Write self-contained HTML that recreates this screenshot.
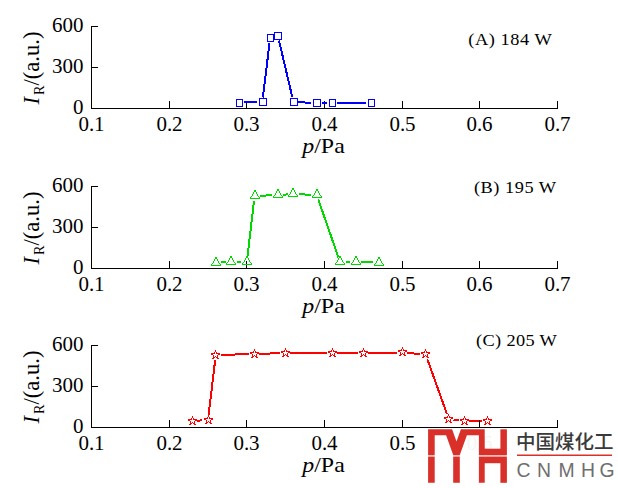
<!DOCTYPE html>
<html><head><meta charset="utf-8"><title>chart</title>
<style>html,body{margin:0;padding:0;background:#fff;width:618px;height:488px;overflow:hidden;font-family:"Liberation Serif",serif}</style></head>
<body>
<svg width="618" height="488" viewBox="0 0 618 488" style="position:absolute;left:0;top:0">
<rect x="0" y="0" width="618" height="488" fill="#fff"/>
<g font-family="Liberation Serif, serif" fill="#000">
<text transform="translate(91.5,131) scale(1.05,1.0)" font-size="20" text-anchor="middle" >0.1</text>
<text transform="translate(169.5,131) scale(1.05,1.0)" font-size="20" text-anchor="middle" >0.2</text>
<text transform="translate(246.5,131) scale(1.05,1.0)" font-size="20" text-anchor="middle" >0.3</text>
<text transform="translate(324.5,131) scale(1.05,1.0)" font-size="20" text-anchor="middle" >0.4</text>
<text transform="translate(402.5,131) scale(1.05,1.0)" font-size="20" text-anchor="middle" >0.5</text>
<text transform="translate(479.5,131) scale(1.05,1.0)" font-size="20" text-anchor="middle" >0.6</text>
<text transform="translate(557.5,131) scale(1.05,1.0)" font-size="20" text-anchor="middle" >0.7</text>
<text transform="translate(83.5,31.7) scale(1.05,1.0)" font-size="20" text-anchor="end" >600</text>
<text transform="translate(83.5,72.7) scale(1.05,1.0)" font-size="20" text-anchor="end" >300</text>
<text transform="translate(83.5,113.7) scale(1.05,1.0)" font-size="20" text-anchor="end" >0</text>
<text transform="translate(302.3,152.8) scale(1.165,1.0)" font-size="20.5" text-anchor="start" ><tspan font-style="italic">p</tspan>/Pa</text>
<text transform="translate(39.2,104.5) rotate(-90) scale(1.017,1.0)" font-size="22.2" text-anchor="start" ><tspan font-style="italic">I</tspan><tspan font-size="14" dy="5" dx="2">R</tspan><tspan dy="-5">/(a.u.)</tspan></text>
<text transform="translate(468.2,45.2) scale(1.06,1.0)" font-size="17.3" text-anchor="start" letter-spacing="0.55">(A) 184 W</text>
</g>
<g fill="#000" shape-rendering="crispEdges">
<rect x="91" y="26" width="1" height="83"/>
<rect x="91" y="108" width="467" height="1"/>
<rect x="92" y="26" width="6" height="1"/>
<rect x="92" y="67" width="6" height="1"/>
<rect x="169" y="101" width="1" height="7"/>
<rect x="246" y="101" width="1" height="7"/>
<rect x="324" y="101" width="1" height="7"/>
<rect x="402" y="101" width="1" height="7"/>
<rect x="479" y="101" width="1" height="7"/>
<rect x="557" y="101" width="1" height="7"/>
</g>
<g stroke="#0000ff" stroke-width="2" fill="none" shape-rendering="crispEdges">
<line x1="244.07" y1="102.00" x2="256.87" y2="102.00"/>
<line x1="262.91" y1="97.50" x2="269.51" y2="43.10"/>
<line x1="278.96" y1="40.50" x2="292.23" y2="96.90"/>
<line x1="298.43" y1="102.21" x2="311.23" y2="102.76"/>
<line x1="321.73" y1="103.00" x2="326.77" y2="103.00"/>
<line x1="337.27" y1="103.00" x2="365.60" y2="103.00"/>
</g>
<g fill="#0000ff" shape-rendering="crispEdges">
<path d="M236,99H243V107H236Z M237,100V106H242V100Z" fill-rule="evenodd"/>
<path d="M259,98H267V106H259Z M260,99V105H266V99Z" fill-rule="evenodd"/>
<path d="M267,34H274V42H267Z M268,35V41H273V35Z" fill-rule="evenodd"/>
<path d="M274,32H282V40H274Z M275,33V39H281V33Z" fill-rule="evenodd"/>
<path d="M290,98H298V106H290Z M291,99V105H297V99Z" fill-rule="evenodd"/>
<path d="M313,99H321V107H313Z M314,100V106H320V100Z" fill-rule="evenodd"/>
<path d="M329,99H336V107H329Z M330,100V106H335V100Z" fill-rule="evenodd"/>
<path d="M368,99H375V107H368Z M369,100V106H374V100Z" fill-rule="evenodd"/>
</g>
<g font-family="Liberation Serif, serif" fill="#000">
<text transform="translate(91.5,291) scale(1.05,1.0)" font-size="20" text-anchor="middle" >0.1</text>
<text transform="translate(169.5,291) scale(1.05,1.0)" font-size="20" text-anchor="middle" >0.2</text>
<text transform="translate(246.5,291) scale(1.05,1.0)" font-size="20" text-anchor="middle" >0.3</text>
<text transform="translate(324.5,291) scale(1.05,1.0)" font-size="20" text-anchor="middle" >0.4</text>
<text transform="translate(402.5,291) scale(1.05,1.0)" font-size="20" text-anchor="middle" >0.5</text>
<text transform="translate(479.5,291) scale(1.05,1.0)" font-size="20" text-anchor="middle" >0.6</text>
<text transform="translate(557.5,291) scale(1.05,1.0)" font-size="20" text-anchor="middle" >0.7</text>
<text transform="translate(83.5,191.7) scale(1.05,1.0)" font-size="20" text-anchor="end" >600</text>
<text transform="translate(83.5,232.7) scale(1.05,1.0)" font-size="20" text-anchor="end" >300</text>
<text transform="translate(83.5,273.7) scale(1.05,1.0)" font-size="20" text-anchor="end" >0</text>
<text transform="translate(302.3,312.8) scale(1.165,1.0)" font-size="20.5" text-anchor="start" ><tspan font-style="italic">p</tspan>/Pa</text>
<text transform="translate(39.2,264.5) rotate(-90) scale(1.017,1.0)" font-size="22.2" text-anchor="start" ><tspan font-style="italic">I</tspan><tspan font-size="14" dy="5" dx="2">R</tspan><tspan dy="-5">/(a.u.)</tspan></text>
<text transform="translate(474,193) scale(1.06,1.0)" font-size="17.3" text-anchor="start" letter-spacing="0.48">(B) 195 W</text>
</g>
<g fill="#000" shape-rendering="crispEdges">
<rect x="91" y="186" width="1" height="83"/>
<rect x="91" y="268" width="467" height="1"/>
<rect x="92" y="186" width="6" height="1"/>
<rect x="92" y="227" width="6" height="1"/>
<rect x="169" y="261" width="1" height="7"/>
<rect x="246" y="261" width="1" height="7"/>
<rect x="324" y="261" width="1" height="7"/>
<rect x="402" y="261" width="1" height="7"/>
<rect x="479" y="261" width="1" height="7"/>
<rect x="557" y="261" width="1" height="7"/>
</g>
<g stroke="#00d900" stroke-width="2" fill="none" shape-rendering="crispEdges">
<line x1="221.27" y1="262.00" x2="225.90" y2="262.00"/>
<line x1="236.80" y1="262.00" x2="241.43" y2="262.00"/>
<line x1="247.36" y1="257.50" x2="254.05" y2="200.70"/>
<line x1="260.10" y1="195.76" x2="272.50" y2="195.23"/>
<line x1="283.40" y1="194.65" x2="288.03" y2="194.35"/>
<line x1="298.93" y1="194.24" x2="311.33" y2="194.77"/>
<line x1="318.30" y1="199.50" x2="338.40" y2="257.30"/>
<line x1="345.53" y1="262.00" x2="350.17" y2="262.00"/>
<line x1="361.07" y1="262.00" x2="373.47" y2="262.00"/>
</g>
<g fill="#00d900" shape-rendering="crispEdges">
<path d="M215,257h2v1h-2zM215,258h2v1h-2zM214,259h1v1h-1zM217,259h1v1h-1zM214,260h1v1h-1zM217,260h1v1h-1zM213,261h1v1h-1zM218,261h1v1h-1zM213,262h1v1h-1zM218,262h1v1h-1zM212,263h1v1h-1zM219,263h1v1h-1zM211,264h1v1h-1zM220,264h1v1h-1zM211,265h10v1h-10z"/>
<path d="M230,256h2v1h-2zM230,257h2v1h-2zM229,258h1v1h-1zM232,258h1v1h-1zM229,259h1v1h-1zM232,259h1v1h-1zM228,260h1v1h-1zM233,260h1v1h-1zM228,261h1v1h-1zM233,261h1v1h-1zM227,262h1v1h-1zM234,262h1v1h-1zM226,263h1v1h-1zM235,263h1v1h-1zM226,264h10v1h-10z"/>
<path d="M246,256h2v1h-2zM246,257h2v1h-2zM245,258h1v1h-1zM248,258h1v1h-1zM245,259h1v1h-1zM248,259h1v1h-1zM244,260h1v1h-1zM249,260h1v1h-1zM244,261h1v1h-1zM249,261h1v1h-1zM243,262h1v1h-1zM250,262h1v1h-1zM242,263h1v1h-1zM251,263h1v1h-1zM242,264h10v1h-10z"/>
<path d="M254,190h2v1h-2zM254,191h2v1h-2zM253,192h1v1h-1zM256,192h1v1h-1zM253,193h1v1h-1zM256,193h1v1h-1zM252,194h1v1h-1zM257,194h1v1h-1zM252,195h1v1h-1zM257,195h1v1h-1zM251,196h1v1h-1zM258,196h1v1h-1zM250,197h1v1h-1zM259,197h1v1h-1zM250,198h10v1h-10z"/>
<path d="M277,189h2v1h-2zM277,190h2v1h-2zM276,191h1v1h-1zM279,191h1v1h-1zM276,192h1v1h-1zM279,192h1v1h-1zM275,193h1v1h-1zM280,193h1v1h-1zM275,194h1v1h-1zM280,194h1v1h-1zM274,195h1v1h-1zM281,195h1v1h-1zM273,196h1v1h-1zM282,196h1v1h-1zM273,197h10v1h-10z"/>
<path d="M292,188h2v1h-2zM292,189h2v1h-2zM291,190h1v1h-1zM294,190h1v1h-1zM291,191h1v1h-1zM294,191h1v1h-1zM290,192h1v1h-1zM295,192h1v1h-1zM290,193h1v1h-1zM295,193h1v1h-1zM289,194h1v1h-1zM296,194h1v1h-1zM288,195h1v1h-1zM297,195h1v1h-1zM288,196h10v1h-10z"/>
<path d="M316,189h2v1h-2zM316,190h2v1h-2zM315,191h1v1h-1zM318,191h1v1h-1zM315,192h1v1h-1zM318,192h1v1h-1zM314,193h1v1h-1zM319,193h1v1h-1zM314,194h1v1h-1zM319,194h1v1h-1zM313,195h1v1h-1zM320,195h1v1h-1zM312,196h1v1h-1zM321,196h1v1h-1zM312,197h10v1h-10z"/>
<path d="M339,256h2v1h-2zM339,257h2v1h-2zM338,258h1v1h-1zM341,258h1v1h-1zM338,259h1v1h-1zM341,259h1v1h-1zM337,260h1v1h-1zM342,260h1v1h-1zM337,261h1v1h-1zM342,261h1v1h-1zM336,262h1v1h-1zM343,262h1v1h-1zM335,263h1v1h-1zM344,263h1v1h-1zM335,264h10v1h-10z"/>
<path d="M355,256h2v1h-2zM355,257h2v1h-2zM354,258h1v1h-1zM357,258h1v1h-1zM354,259h1v1h-1zM357,259h1v1h-1zM353,260h1v1h-1zM358,260h1v1h-1zM353,261h1v1h-1zM358,261h1v1h-1zM352,262h1v1h-1zM359,262h1v1h-1zM351,263h1v1h-1zM360,263h1v1h-1zM351,264h10v1h-10z"/>
<path d="M378,257h2v1h-2zM378,258h2v1h-2zM377,259h1v1h-1zM380,259h1v1h-1zM377,260h1v1h-1zM380,260h1v1h-1zM376,261h1v1h-1zM381,261h1v1h-1zM376,262h1v1h-1zM381,262h1v1h-1zM375,263h1v1h-1zM382,263h1v1h-1zM374,264h1v1h-1zM383,264h1v1h-1zM374,265h10v1h-10z"/>
</g>
<g font-family="Liberation Serif, serif" fill="#000">
<text transform="translate(91.5,450) scale(1.05,1.0)" font-size="20" text-anchor="middle" >0.1</text>
<text transform="translate(169.5,450) scale(1.05,1.0)" font-size="20" text-anchor="middle" >0.2</text>
<text transform="translate(246.5,450) scale(1.05,1.0)" font-size="20" text-anchor="middle" >0.3</text>
<text transform="translate(324.5,450) scale(1.05,1.0)" font-size="20" text-anchor="middle" >0.4</text>
<text transform="translate(402.5,450) scale(1.05,1.0)" font-size="20" text-anchor="middle" >0.5</text>
<text transform="translate(479.5,450) scale(1.05,1.0)" font-size="20" text-anchor="middle" >0.6</text>
<text transform="translate(557.5,450) scale(1.05,1.0)" font-size="20" text-anchor="middle" >0.7</text>
<text transform="translate(83.5,350.7) scale(1.05,1.0)" font-size="20" text-anchor="end" >600</text>
<text transform="translate(83.5,391.7) scale(1.05,1.0)" font-size="20" text-anchor="end" >300</text>
<text transform="translate(83.5,432.7) scale(1.05,1.0)" font-size="20" text-anchor="end" >0</text>
<text transform="translate(302.3,471.8) scale(1.165,1.0)" font-size="20.5" text-anchor="start" ><tspan font-style="italic">p</tspan>/Pa</text>
<text transform="translate(39.2,423.5) rotate(-90) scale(1.017,1.0)" font-size="22.2" text-anchor="start" ><tspan font-style="italic">I</tspan><tspan font-size="14" dy="5" dx="2">R</tspan><tspan dy="-5">/(a.u.)</tspan></text>
<text transform="translate(476,345.8) scale(1.06,1.0)" font-size="17.3" text-anchor="start" letter-spacing="0.33">(C) 205 W</text>
</g>
<g fill="#000" shape-rendering="crispEdges">
<rect x="91" y="345" width="1" height="83"/>
<rect x="91" y="427" width="467" height="1"/>
<rect x="92" y="345" width="6" height="1"/>
<rect x="92" y="386" width="6" height="1"/>
<rect x="169" y="420" width="1" height="7"/>
<rect x="246" y="420" width="1" height="7"/>
<rect x="324" y="420" width="1" height="7"/>
<rect x="402" y="420" width="1" height="7"/>
<rect x="479" y="420" width="1" height="7"/>
<rect x="557" y="420" width="1" height="7"/>
</g>
<g stroke="#ff0000" stroke-width="2" fill="none" shape-rendering="crispEdges">
<line x1="197.27" y1="420.69" x2="202.40" y2="420.36"/>
<line x1="208.63" y1="414.70" x2="215.17" y2="360.00"/>
<line x1="220.57" y1="354.88" x2="249.00" y2="354.14"/>
<line x1="259.40" y1="353.85" x2="280.07" y2="353.18"/>
<line x1="290.47" y1="353.00" x2="326.67" y2="353.00"/>
<line x1="337.07" y1="353.00" x2="357.73" y2="353.00"/>
<line x1="368.13" y1="353.00" x2="396.57" y2="353.00"/>
<line x1="406.97" y1="353.21" x2="419.87" y2="353.76"/>
<line x1="427.37" y1="359.30" x2="446.97" y2="414.00"/>
<line x1="453.57" y1="419.62" x2="458.70" y2="420.28"/>
<line x1="469.10" y1="421.00" x2="482.00" y2="421.00"/>
</g>
<g fill="#ff0000" shape-rendering="crispEdges">
<path d="M192,416h1v1h-1zM192,417h1v1h-1zM191,418h1v1h-1zM193,418h1v1h-1zM188,419h4v1h-4zM193,419h4v1h-4zM188,420h2v1h-2zM195,420h2v1h-2zM190,421h1v1h-1zM194,421h1v1h-1zM190,422h1v1h-1zM192,422h1v1h-1zM194,422h1v1h-1zM190,423h2v1h-2zM193,423h2v1h-2zM189,424h2v1h-2zM194,424h2v1h-2z"/>
<path d="M208,415h1v1h-1zM208,416h1v1h-1zM207,417h1v1h-1zM209,417h1v1h-1zM204,418h4v1h-4zM209,418h4v1h-4zM204,419h2v1h-2zM211,419h2v1h-2zM206,420h1v1h-1zM210,420h1v1h-1zM206,421h1v1h-1zM208,421h1v1h-1zM210,421h1v1h-1zM206,422h2v1h-2zM209,422h2v1h-2zM205,423h2v1h-2zM210,423h2v1h-2z"/>
<path d="M215,350h1v1h-1zM215,351h1v1h-1zM214,352h1v1h-1zM216,352h1v1h-1zM211,353h4v1h-4zM216,353h4v1h-4zM211,354h2v1h-2zM218,354h2v1h-2zM213,355h1v1h-1zM217,355h1v1h-1zM213,356h1v1h-1zM215,356h1v1h-1zM217,356h1v1h-1zM213,357h2v1h-2zM216,357h2v1h-2zM212,358h2v1h-2zM217,358h2v1h-2z"/>
<path d="M254,349h1v1h-1zM254,350h1v1h-1zM253,351h1v1h-1zM255,351h1v1h-1zM250,352h4v1h-4zM255,352h4v1h-4zM250,353h2v1h-2zM257,353h2v1h-2zM252,354h1v1h-1zM256,354h1v1h-1zM252,355h1v1h-1zM254,355h1v1h-1zM256,355h1v1h-1zM252,356h2v1h-2zM255,356h2v1h-2zM251,357h2v1h-2zM256,357h2v1h-2z"/>
<path d="M285,348h1v1h-1zM285,349h1v1h-1zM284,350h1v1h-1zM286,350h1v1h-1zM281,351h4v1h-4zM286,351h4v1h-4zM281,352h2v1h-2zM288,352h2v1h-2zM283,353h1v1h-1zM287,353h1v1h-1zM283,354h1v1h-1zM285,354h1v1h-1zM287,354h1v1h-1zM283,355h2v1h-2zM286,355h2v1h-2zM282,356h2v1h-2zM287,356h2v1h-2z"/>
<path d="M332,348h1v1h-1zM332,349h1v1h-1zM331,350h1v1h-1zM333,350h1v1h-1zM328,351h4v1h-4zM333,351h4v1h-4zM328,352h2v1h-2zM335,352h2v1h-2zM330,353h1v1h-1zM334,353h1v1h-1zM330,354h1v1h-1zM332,354h1v1h-1zM334,354h1v1h-1zM330,355h2v1h-2zM333,355h2v1h-2zM329,356h2v1h-2zM334,356h2v1h-2z"/>
<path d="M363,348h1v1h-1zM363,349h1v1h-1zM362,350h1v1h-1zM364,350h1v1h-1zM359,351h4v1h-4zM364,351h4v1h-4zM359,352h2v1h-2zM366,352h2v1h-2zM361,353h1v1h-1zM365,353h1v1h-1zM361,354h1v1h-1zM363,354h1v1h-1zM365,354h1v1h-1zM361,355h2v1h-2zM364,355h2v1h-2zM360,356h2v1h-2zM365,356h2v1h-2z"/>
<path d="M402,347h1v1h-1zM402,348h1v1h-1zM401,349h1v1h-1zM403,349h1v1h-1zM398,350h4v1h-4zM403,350h4v1h-4zM398,351h2v1h-2zM405,351h2v1h-2zM400,352h1v1h-1zM404,352h1v1h-1zM400,353h1v1h-1zM402,353h1v1h-1zM404,353h1v1h-1zM400,354h2v1h-2zM403,354h2v1h-2zM399,355h2v1h-2zM404,355h2v1h-2z"/>
<path d="M425,349h1v1h-1zM425,350h1v1h-1zM424,351h1v1h-1zM426,351h1v1h-1zM421,352h4v1h-4zM426,352h4v1h-4zM421,353h2v1h-2zM428,353h2v1h-2zM423,354h1v1h-1zM427,354h1v1h-1zM423,355h1v1h-1zM425,355h1v1h-1zM427,355h1v1h-1zM423,356h2v1h-2zM426,356h2v1h-2zM422,357h2v1h-2zM427,357h2v1h-2z"/>
<path d="M448,414h1v1h-1zM448,415h1v1h-1zM447,416h1v1h-1zM449,416h1v1h-1zM444,417h4v1h-4zM449,417h4v1h-4zM444,418h2v1h-2zM451,418h2v1h-2zM446,419h1v1h-1zM450,419h1v1h-1zM446,420h1v1h-1zM448,420h1v1h-1zM450,420h1v1h-1zM446,421h2v1h-2zM449,421h2v1h-2zM445,422h2v1h-2zM450,422h2v1h-2z"/>
<path d="M464,416h1v1h-1zM464,417h1v1h-1zM463,418h1v1h-1zM465,418h1v1h-1zM460,419h4v1h-4zM465,419h4v1h-4zM460,420h2v1h-2zM467,420h2v1h-2zM462,421h1v1h-1zM466,421h1v1h-1zM462,422h1v1h-1zM464,422h1v1h-1zM466,422h1v1h-1zM462,423h2v1h-2zM465,423h2v1h-2zM461,424h2v1h-2zM466,424h2v1h-2z"/>
<path d="M487,416h1v1h-1zM487,417h1v1h-1zM486,418h1v1h-1zM488,418h1v1h-1zM483,419h4v1h-4zM488,419h4v1h-4zM483,420h2v1h-2zM490,420h2v1h-2zM485,421h1v1h-1zM489,421h1v1h-1zM485,422h1v1h-1zM487,422h1v1h-1zM489,422h1v1h-1zM485,423h2v1h-2zM488,423h2v1h-2zM484,424h2v1h-2zM489,424h2v1h-2z"/>
</g>
<rect x="479" y="420" width="1" height="7" fill="#000" shape-rendering="crispEdges"/>
<rect x="425" y="428" width="193" height="60" fill="#fff" fill-opacity="0.96"/>
<g fill="#d9302a">
<path d="M428.1,429.3H452.1L456.5,441.6L460.9,429.3H484.7V482.8H478.9V435.2H466.9L459.8,455V482.8H453.2V455L446.1,435.2H434.7V482.8H428.1Z"/>
<rect x="482" y="448.7" width="21" height="14.5"/>
<rect x="500.4" y="429.3" width="6.5" height="53.5"/>
</g>
<rect x="427" y="455.1" width="81" height="1.6" fill="#fff" fill-opacity="0.75"/>
<text x="516 535.5 555 574.5 594" y="449.43" font-family="'Liberation Sans', 'Noto Sans CJK SC', sans-serif" font-size="19.5" font-weight="500" fill="#3a3a3a" text-anchor="start">中国煤化工</text>
<rect x="517" y="454.5" width="95" height="1.5" fill="#d9302a"/>
<g font-family="Liberation Sans, sans-serif" font-size="19.4" fill="#6e6e6e">
<text x="523.5" y="476.5" text-anchor="middle">C</text>
<text x="544" y="476.5" text-anchor="middle">N</text>
<text x="566.5" y="476.5" text-anchor="middle">M</text>
<text x="588" y="476.5" text-anchor="middle">H</text>
<text x="607" y="476.5" text-anchor="middle">G</text>
</g>
</svg>
</body></html>
